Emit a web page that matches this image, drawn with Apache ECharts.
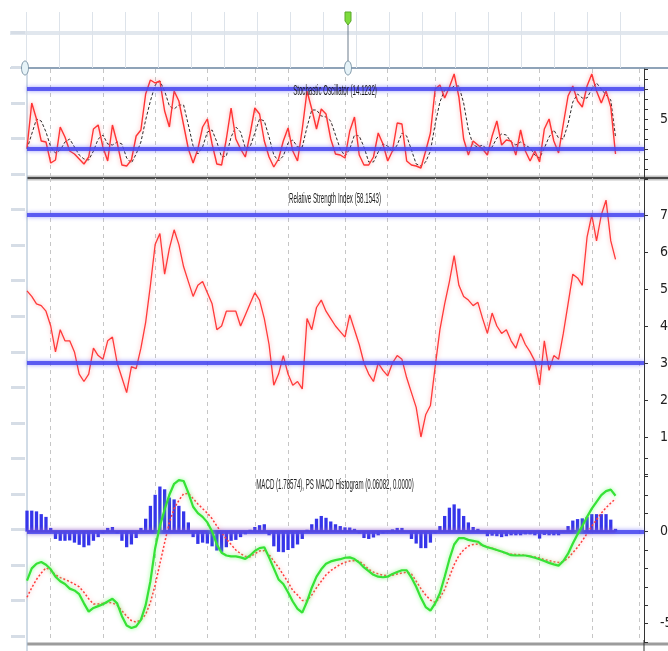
<!DOCTYPE html>
<html>
<head>
<meta charset="utf-8">
<script src="https://cdn.jsdelivr.net/npm/echarts@6/dist/echarts.min.js"></script>
<style>
html,body{margin:0;padding:0;background:#fff;overflow:hidden;}
#chart{width:668px;height:651px;}
</style>
</head>
<body>
<div id="chart"></div>
<script>
// ---- data (one point every two trading days) ----
const categories = Array.from({length: 131}, (_, i) => 'd' + i);
const monthStarts = [5, 16, 27, 38, 48, 55, 67, 76, 86, 97, 108, 119, 129];

const stochK = [21,66,50,28,27,6,9,42,32,18, 15,10,5,12,40,44,22,8,44,26,
  4,3,9,33,39,75,89,86,88,58, 42,78,68,44,20,6,20,42,50,25,
  5,4,30,61,30,20,12,35,61,55, 28,12,2,10,28,41,18,8,40,78,
  60,40,60,55,30,15,14,11,38,52, 14,4,4,12,36,25,8,18,46,45,
  8,4,3,1,18,36,80,84,71,82, 95,72,30,14,28,24,20,14,33,48,
  24,29,28,14,39,18,8,18,7,40, 50,28,16,45,73,83,68,62,83,95,
  78,66,78,62,15];

const stochD = [20,35,50,48,37,22,16,19,27,30, 22,14,10,9,18,30,34,25,24,27,
  25,11,6,15,27,49,68,84,88,78, 63,60,64,64,44,23,15,22,37,39,
  27,12,13,32,42,37,21,22,36,50, 48,32,14,8,13,26,29,22,22,42,
  59,59,53,52,48,34,20,13,20,34, 33,22,7,7,17,25,23,17,24,36,
  33,19,5,3,7,18,45,67,79,79, 83,83,66,39,24,22,24,19,22,31,
  35,34,27,24,27,24,21,14,11,21, 32,39,31,30,45,67,75,71,71,80,
  86,80,74,69,32];

const rsi = [49.5,48,46,45.5,44,40,33,39,36,36, 33,27,25,27,34,32,31,36,37,30,
  26,22,29,28.5,34,41,51,62,65,54, 61,66,62,56,52,48,51,52,49,46,
  39,40,44,44,44,40,43,46,49,47, 42,35,24,27,32,27,24,25,23,42,
  39,45,47,44,42,40,38.5,37,43,39, 35,30,27,25,30,28,26.5,30,32,31,
  26,22,18,10,16,18.5,29,39,46,52, 59,51,48,47,45.5,46.4,42,38,43.5,40,
  38,39,36,34,38,35,33,30.5,24,36, 28,32,31,38,46,54,53,51,64,70,
  63,70,74,63,58];

const macd = [-2.66,-2.0,-1.75,-1.65,-1.8,-2.05,-2.45,-2.7,-2.85,-3.1,
  -3.2,-3.4,-3.9,-4.35,-4.15,-4.05,-3.95,-3.8,-3.65,-3.9,
  -4.6,-5.1,-5.24,-5.15,-4.8,-4.0,-2.7,-0.9,0.3,1.2,
  2.0,2.6,2.8,2.75,2.1,1.35,1.0,0.8,0.5,0.0,
  -0.7,-1.15,-1.3,-1.35,-1.35,-1.4,-1.48,-1.3,-1.05,-0.9,
  -0.85,-1.4,-2.0,-2.6,-2.85,-3.3,-3.8,-4.2,-4.4,-3.8,
  -3.05,-2.45,-2.05,-1.75,-1.62,-1.55,-1.5,-1.42,-1.4,-1.49,
  -1.68,-1.95,-2.15,-2.35,-2.45,-2.48,-2.45,-2.3,-2.2,-2.1,
  -2.1,-2.5,-3.0,-3.6,-4.1,-4.3,-3.9,-3.35,-2.45,-1.5,
  -0.7,-0.35,-0.35,-0.45,-0.5,-0.55,-0.75,-0.85,-0.92,-1.0,
  -1.08,-1.18,-1.28,-1.3,-1.3,-1.3,-1.35,-1.42,-1.5,-1.6,
  -1.7,-1.78,-1.85,-1.6,-1.2,-0.65,-0.15,0.3,0.8,1.25,
  1.62,1.98,2.2,2.28,1.95];

const macdSignal = [-3.57,-3.05,-2.6,-2.25,-1.97,-2.1,-2.35,-2.5,-2.6,-2.72,
  -2.85,-3.0,-3.3,-3.65,-3.93,-3.93,-3.9,-3.85,-3.88,-4.0,
  -4.3,-4.6,-4.84,-4.92,-4.8,-4.5,-3.85,-2.9,-1.75,-0.6,
  0.5,1.25,1.7,2.05,2.08,1.8,1.5,1.25,1.0,0.7,
  0.3,-0.05,-0.4,-0.7,-1.0,-1.2,-1.35,-1.38,-1.2,-1.05,
  -1.03,-1.25,-1.6,-1.95,-2.35,-2.75,-3.2,-3.45,-3.75,-3.75,
  -3.45,-3.05,-2.7,-2.35,-2.12,-1.95,-1.78,-1.67,-1.6,-1.58,
  -1.6,-1.8,-2.05,-2.2,-2.3,-2.37,-2.4,-2.37,-2.3,-2.25,
  -2.2,-2.3,-2.7,-3.1,-3.45,-3.72,-3.85,-3.6,-3.15,-2.45,
  -1.8,-1.3,-1.0,-0.78,-0.7,-0.68,-0.75,-0.83,-0.9,-1.0,
  -1.1,-1.18,-1.22,-1.24,-1.26,-1.3,-1.34,-1.38,-1.44,-1.52,
  -1.58,-1.64,-1.68,-1.62,-1.45,-1.15,-0.85,-0.5,-0.1,0.3,
  0.65,1.0,1.3,1.55,1.78];

const macdHist = [1.14,1.14,1.1,0.95,0.8,0.2,-0.4,-0.5,-0.5,-0.48,
  -0.6,-0.72,-0.85,-0.75,-0.5,-0.3,-0.1,0.2,0.25,-0.1,
  -0.5,-0.85,-0.7,-0.35,0.2,0.7,1.4,2.0,2.45,2.3,
  1.85,1.75,1.4,1.1,0.5,-0.3,-0.67,-0.6,-0.65,-0.8,
  -1.03,-1.1,-0.85,-0.5,-0.45,-0.3,-0.15,0.1,0.25,0.35,
  0.4,-0.2,-0.8,-1.1,-1.12,-1.0,-0.9,-0.7,-0.4,0.1,
  0.4,0.7,0.85,0.75,0.55,0.4,0.3,0.23,0.22,0.15,
  -0.1,-0.35,-0.4,-0.32,-0.2,-0.1,0.05,0.12,0.2,0.2,
  0.0,-0.4,-0.65,-0.9,-0.9,-0.6,-0.1,0.3,0.85,1.3,
  1.48,1.25,0.85,0.5,0.25,0.15,0.0,-0.25,-0.22,-0.25,
  -0.3,-0.25,-0.2,-0.2,-0.2,-0.15,-0.15,-0.2,-0.38,-0.18,
  -0.2,-0.2,-0.2,-0.05,0.3,0.6,0.68,0.72,0.8,0.95,
  0.95,0.95,0.95,0.65,0.15];

// second histogram value shown in the legend text (0.0000): a flat zero line
const histSignal = new Array(macdHist.length).fill(0);

const stochLevels = [80, 20];
const rsiLevels = [70, 30];

const titles = {
  stoch: 'Stochastic Oscillator (14.1232)',
  rsi: 'Relative Strength Index (58.1543)',
  macd: 'MACD (1.78574), PS MACD Histogram (0.06082, 0.0000)'
};

// ---- chart ----
const chart = echarts.init(document.getElementById('chart'), null, {renderer: 'canvas'});

const L = 27, R = 24;
const refLine = {
  color: '#4848ee', width: 4, type: 'solid', opacity: 0.85,
  shadowBlur: 4, shadowColor: 'rgba(90,90,255,0.7)'
};
const rightAxisBase = {
  type: 'value', position: 'right',
  axisLine: {show: true, lineStyle: {color: '#333', width: 1}},
  axisTick: {show: true, length: 4, lineStyle: {color: '#333'}},
  splitLine: {show: false},
  axisLabel: {
    margin: 16, fontSize: 14, color: '#222',
    fontFamily: '"Liberation Sans Narrow","DejaVu Sans Condensed","Liberation Sans",sans-serif'
  }
};
const panelX = (g) => ({
  type: 'category', gridIndex: g, data: categories, boundaryGap: false,
  axisLine: {show: false}, axisTick: {show: false}, axisLabel: {show: false},
  splitLine: {
    show: true,
    interval: (idx) => monthStarts.indexOf(idx) >= 0,
    lineStyle: {color: '#c6c6c6', type: [4, 4], width: 1}
  }
});
const redGlow = {shadowBlur: 4, shadowColor: 'rgba(255,90,90,0.55)'};
const titleText = (txt, y) => ({
  type: 'text', x: 335, y: y, scaleX: 0.41, z: 100,
  style: {
    text: txt, align: 'center', verticalAlign: 'middle',
    font: '15px "Liberation Sans", Arial, sans-serif', fill: '#1e1e1e',
    shadowBlur: 2, shadowColor: 'rgba(0,0,0,0.35)'
  }
});
const gridBase = {outerBoundsMode: 'none', containLabel: false};

const option = {
  animation: false,
  backgroundColor: '#ffffff',
  grid: [
    Object.assign({left: 26, top: 12, width: 594, height: 56}, gridBase),
    Object.assign({left: L, right: R, top: 69, height: 110}, gridBase),
    Object.assign({left: L, right: R, top: 178, height: 296}, gridBase),
    Object.assign({left: L, right: R, top: 458, height: 184}, gridBase),
    Object.assign({left: 25, top: 32, width: 10, height: 604}, gridBase)
  ],
  xAxis: [
    {type: 'value', gridIndex: 0, min: 0, max: 18, interval: 1,
     axisLine: {show: false}, axisTick: {show: false}, axisLabel: {show: false},
     splitLine: {show: true, lineStyle: {color: '#dde3ea', width: 1}}},
    panelX(1), panelX(2), panelX(3),
    {type: 'value', gridIndex: 4, show: false}
  ],
  yAxis: [
    {type: 'value', gridIndex: 0, show: false},
    Object.assign({}, rightAxisBase, {gridIndex: 1, min: -10, max: 100, interval: 10,
      axisLabel: Object.assign({}, rightAxisBase.axisLabel, {formatter: (v) => v === 50 ? '50' : ''})}),
    Object.assign({}, rightAxisBase, {gridIndex: 2, min: 0, max: 80, interval: 10,
      axisLabel: Object.assign({}, rightAxisBase.axisLabel, {formatter: (v) => (v > 0 && v < 80) ? String(v) : ''})}),
    Object.assign({}, rightAxisBase, {gridIndex: 3, min: -6, max: 4, interval: 1,
      axisLabel: Object.assign({}, rightAxisBase.axisLabel, {formatter: (v) => (v === 0 || v === -5) ? String(v) : ''})}),
    {type: 'value', gridIndex: 4, position: 'left', min: 0, max: 17, interval: 1,
     axisLine: {show: false}, axisLabel: {show: false}, splitLine: {show: false},
     axisTick: {show: true, length: 14, lineStyle: {color: '#d6dde6', width: 3}}}
  ],
  series: [
    {
      name: '%D', type: 'line', xAxisIndex: 1, yAxisIndex: 1, data: stochD,
      showSymbol: false, z: 2, silent: true,
      lineStyle: {color: '#2a2a2a', width: 1, type: [3, 2]},
      markLine: {silent: true, symbol: ['none', 'none'], label: {show: false},
        lineStyle: refLine, data: stochLevels.map(v => ({yAxis: v}))}
    },
    {
      name: '%K', type: 'line', xAxisIndex: 1, yAxisIndex: 1, data: stochK,
      showSymbol: false, z: 3, silent: true,
      lineStyle: Object.assign({color: '#ff3434', width: 1.4}, redGlow)
    },
    {
      name: 'RSI levels', type: 'line', xAxisIndex: 2, yAxisIndex: 2, data: rsi,
      showSymbol: false, z: 1, silent: true, lineStyle: {opacity: 0},
      markLine: {silent: true, symbol: ['none', 'none'], label: {show: false},
        lineStyle: refLine, data: rsiLevels.map(v => ({yAxis: v}))}
    },
    {
      name: 'RSI', type: 'line', xAxisIndex: 2, yAxisIndex: 2, data: rsi,
      showSymbol: false, z: 3, silent: true,
      lineStyle: Object.assign({color: '#ff3a3a', width: 1.3}, redGlow)
    },
    {
      name: 'Histogram', type: 'bar', xAxisIndex: 3, yAxisIndex: 3, data: macdHist,
      barWidth: 3.3, z: 1, silent: true,
      itemStyle: {color: '#3535ea'},
      markLine: {silent: true, symbol: ['none', 'none'], label: {show: false},
        lineStyle: refLine, data: [{yAxis: 0}]}
    },
    {
      name: 'Histogram 2', type: 'line', xAxisIndex: 3, yAxisIndex: 3, data: histSignal,
      showSymbol: false, z: 3, silent: true,
      lineStyle: Object.assign({color: '#e23636', width: 2}, {shadowBlur: 4, shadowColor: 'rgba(255,120,120,0.7)'})
    },
    {
      name: 'Signal', type: 'line', xAxisIndex: 3, yAxisIndex: 3, data: macdSignal,
      showSymbol: false, z: 4, silent: true,
      lineStyle: Object.assign({color: '#ff3c3c', width: 1.5, type: [2, 2]}, redGlow)
    },
    {
      name: 'MACD', type: 'line', xAxisIndex: 3, yAxisIndex: 3, data: macd,
      showSymbol: false, z: 5, silent: true,
      lineStyle: {color: '#36e236', width: 2.2, shadowBlur: 4, shadowColor: 'rgba(110,255,110,0.8)'}
    }
  ],
  graphic: [
    {type: 'line', shape: {x1: 10, y1: 33, x2: 668, y2: 33}, style: {stroke: '#e1e7ee', lineWidth: 4}, silent: true},
    {type: 'line', shape: {x1: 10, y1: 68, x2: 26, y2: 68}, style: {stroke: '#cfd8e2', lineWidth: 2}, silent: true},
    {type: 'line', shape: {x1: 26, y1: 68, x2: 668, y2: 68}, style: {stroke: '#8fa3b8', lineWidth: 2}, silent: true},
    {type: 'line', shape: {x1: 27, y1: 178, x2: 668, y2: 178}, style: {stroke: '#c4c4c4', lineWidth: 5}, silent: true},
    {type: 'line', shape: {x1: 27, y1: 178, x2: 668, y2: 178}, style: {stroke: '#4a4a4a', lineWidth: 2}, silent: true},
    {type: 'line', shape: {x1: 27, y1: 644, x2: 668, y2: 644}, style: {stroke: '#9c9c9c', lineWidth: 3}, silent: true},
    {type: 'line', shape: {x1: 27, y1: 68, x2: 27, y2: 651}, style: {stroke: '#a3b8ce', lineWidth: 1}, silent: true},
    {type: 'line', shape: {x1: 644, y1: 640, x2: 644, y2: 651}, style: {stroke: '#333', lineWidth: 1}, silent: true},
    {type: 'line', shape: {x1: 348, y1: 22, x2: 348, y2: 62}, style: {stroke: '#6c7c8c', lineWidth: 1}, silent: true, z: 50},
    {type: 'ellipse', shape: {cx: 25, cy: 68, rx: 3.5, ry: 7}, style: {fill: '#e6f3f8', stroke: '#7f97a8', lineWidth: 1}, silent: true, z: 60},
    {type: 'ellipse', shape: {cx: 348, cy: 68, rx: 3.5, ry: 7}, style: {fill: '#e6f3f8', stroke: '#7f97a8', lineWidth: 1}, silent: true, z: 60},
    {type: 'polygon', shape: {points: [[345, 12], [351, 12], [351, 21], [348, 25], [345, 21]]},
     style: {fill: '#7ddc3c', stroke: '#5aa82a', lineWidth: 1}, silent: true, z: 60},
    titleText(titles.stoch, 91),
    titleText(titles.rsi, 199),
    titleText(titles.macd, 485)
  ]
};

chart.setOption(option);
</script>
</body>
</html>
